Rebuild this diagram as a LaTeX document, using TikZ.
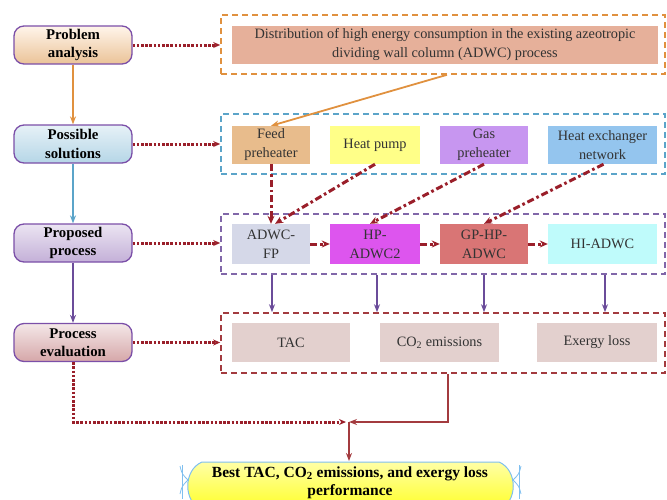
\documentclass[tikz,border=0pt]{standalone}
\usepackage{fontspec}
\setmainfont{Liberation Serif}
\usetikzlibrary{arrows.meta}
\definecolor{dred}{HTML}{9A1F2A}
\definecolor{orangeC}{HTML}{E0913F}
\definecolor{blueC}{HTML}{5BA4C9}
\definecolor{purpleC}{HTML}{6B4C9A}
\definecolor{brownC}{HTML}{A33B3F}
\definecolor{lnborder}{HTML}{7B4FA8}
\definecolor{txt}{HTML}{333333}
\definecolor{cDist}{HTML}{E6B09A}
\definecolor{cFP}{HTML}{E8BC8C}
\definecolor{cHP}{HTML}{FFFF88}
\definecolor{cGP}{HTML}{C796F0}
\definecolor{cHX}{HTML}{94C5EE}
\definecolor{cADWC}{HTML}{D5D8E8}
\definecolor{cHPA}{HTML}{DD55EE}
\definecolor{cGPA}{HTML}{D97575}
\definecolor{cHI}{HTML}{BFFBFB}
\definecolor{cEval}{HTML}{E3D0CE}
\definecolor{bBorder}{HTML}{7FBFEF}
\begin{document}
\begin{tikzpicture}[x=1pt,y=-1pt,
  lnode/.style={rectangle, rounded corners=10pt, draw=lnborder, line width=1.3pt,
    minimum width=118pt, minimum height=38pt, inner sep=0pt, align=center,
    font=\bfseries\fontsize{14.8}{18.5}\selectfont,
    execute at begin node={\rule{0pt}{15.5pt}}},
  ibox/.style={rectangle, inner sep=0pt, align=center, font=\fontsize{14.3}{19}\selectfont, text=txt},
  lowtxt/.style={execute at begin node={\rule{0pt}{14pt}}},
  dbox/.style={rectangle, draw, line width=1.6pt, dash pattern=on 6pt off 4pt, inner sep=0pt},
  dotarr/.style={draw=dred, line width=3pt, dash pattern=on 2.6pt off 1.6pt, -{Stealth[length=7pt,width=6pt]}},
  dasharr/.style={draw=dred, line width=3pt, dash pattern=on 7pt off 3pt on 2.6pt off 3pt, -{Stealth[length=8pt,width=7pt]}},
  solarr/.style={line width=1.8pt, -{Stealth[length=8pt,width=6pt]}}
]
\useasboundingbox (0,0) rectangle (667,499);
\clip (0,0) rectangle (667,499);

% left column
\node[lnode, top color=orange!8, middle color=cFP!70, bottom color=cFP!90] (PA) at (73,45) {Problem\\analysis};
\node[lnode, top color=blueC!15, middle color=blueC!35, bottom color=blueC!45] (PS) at (73,144) {Possible\\solutions};
\node[lnode, top color=lnborder!15, middle color=lnborder!38, bottom color=lnborder!45] (PP) at (73,243) {Proposed\\process};
\node[lnode, top color=brownC!12, middle color=brownC!40, bottom color=brownC!45] (PE) at (73,342.5) {Process\\evaluation};

% dashed boxes
\node[dbox, draw=orangeC, minimum width=444pt, minimum height=59pt] (D1) at (443,44.5) {};
\node[dbox, draw=blueC, minimum width=444pt, minimum height=60pt] (D2) at (443,144) {};
\node[dbox, draw=purpleC!85, minimum width=444pt, minimum height=60pt] (D3) at (443,244) {};
\node[dbox, draw=brownC, minimum width=444pt, minimum height=60pt] (D4) at (443,343) {};

% inner boxes
\node[ibox, lowtxt, fill=cDist, minimum width=426pt, minimum height=38pt] (DI) at (445,45)
  {Distribution of high energy consumption in the existing azeotropic\\dividing wall column (ADWC) process};
\node[ibox, lowtxt, fill=cFP, minimum width=78pt, minimum height=38pt] (FP) at (271,145) {Feed\\preheater};
\node[ibox, fill=cHP, minimum width=90pt, minimum height=38pt] (HPm) at (375,145) {Heat pump};
\node[ibox, lowtxt, fill=cGP, minimum width=88pt, minimum height=38pt] (GP) at (484,145) {Gas\\preheater};
\node[ibox, lowtxt, fill=cHX, minimum width=109pt, minimum height=38pt] (HX) at (602.5,145) {Heat exchanger\\network};

\node[ibox, lowtxt, fill=cADWC, minimum width=78pt, minimum height=40pt] (AF) at (271,244) {ADWC-\\FP};
\node[ibox, lowtxt, fill=cHPA, minimum width=90pt, minimum height=40pt] (HA) at (375,244) {HP-\\ADWC2};
\node[ibox, lowtxt, fill=cGPA, minimum width=88pt, minimum height=40pt] (GA) at (484,244) {GP-HP-\\ADWC};
\node[ibox, fill=cHI, minimum width=109pt, minimum height=40pt] (HI) at (602.5,244) {HI-ADWC};

\node[ibox, fill=cEval, minimum width=118pt, minimum height=39pt] (TAC) at (291,342.5) {TAC};
\node[ibox, fill=cEval, minimum width=119pt, minimum height=39pt] (CO) at (439.5,342.5) {CO\textsubscript{2} emissions};
\node[ibox, fill=cEval, minimum width=120pt, minimum height=39pt] (EX) at (597,342.5) {Exergy loss};

% left column arrows
\draw[solarr, orangeC] (PA) -- (PS);
\draw[solarr, blueC] (PS) -- (PP);
\draw[solarr, purpleC] (PP) -- (PE);

% dotted arrows to dashed boxes
\draw[dotarr] (PA.east) -- (PA.east -| D1.west);
\draw[dotarr] (PS.east) -- (PS.east -| D2.west);
\draw[dotarr] (PP.east) -- (PP.east -| D3.west);
\draw[dotarr] (PE.east) -- (PE.east -| D4.west);

% orange arrow
\draw[solarr, orangeC] (D1.south -| 447,0) -- (FP.north);

% dash-dot arrows
\draw[dasharr] (FP.south) -- (AF.north);
\draw[dasharr] (HPm.south) -- ([xshift=4pt]AF.north);
\draw[dasharr] (GP.south) -- ([xshift=-5pt]HA.north);
\draw[dasharr] ([xshift=1pt]HX.south) -- (GA.north);
\draw[dasharr] (AF) -- (HA);
\draw[dasharr] (HA) -- (GA);
\draw[dasharr] (GA) -- (HI);

% purple arrows to evaluation
\foreach \xx in {272,377,484,605}
  \draw[solarr, purpleC] (D3.south -| \xx,0) -- (D4.north -| \xx,0);

% joint and final
\coordinate (J) at (349,422);
\coordinate (Btop) at (349,461);
\draw[solarr, brownC, line width=2pt] (D4.south -| 448,0) |- (J);
\draw[dotarr] (PE.south) |- ([xshift=-3pt]J);
\draw[solarr, brownC, line width=2pt] (J) -- (Btop);

% bottom node
\path[top color=yellow!35, bottom color=yellow!85, draw=bBorder, line width=1pt]
  (202,462) -- (499,462) .. controls (518,470) and (518,502) .. (499,510)
  -- (202,510) .. controls (183,502) and (183,470) .. (202,462);
\draw[bBorder, line width=0.8pt] (182,465) -- (182,499);
\draw[bBorder, line width=0.8pt] (180,466) .. controls (182,474) .. (188,480);
\draw[bBorder, line width=0.8pt] (180,494) .. controls (182,486) .. (188,480);
\draw[bBorder, line width=0.8pt] (519,465) -- (519,499);
\draw[bBorder, line width=0.8pt] (521,466) .. controls (519,474) .. (513,480);
\draw[bBorder, line width=0.8pt] (521,494) .. controls (519,486) .. (513,480);
\node[align=center, font=\bfseries\fontsize{15.5}{18}\selectfont, inner sep=0pt] (B) at (350,482.5)
  {Best TAC, CO\textsubscript{2} emissions, and exergy loss\\performance};
\end{tikzpicture}
\end{document}
